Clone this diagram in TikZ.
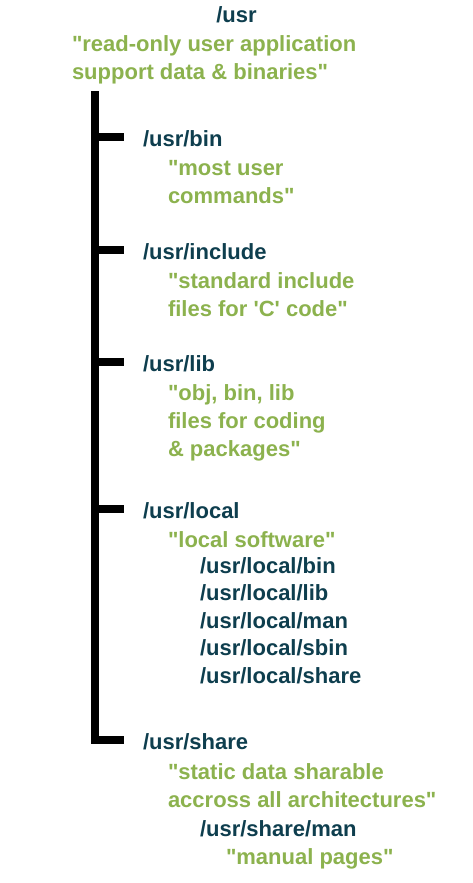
\documentclass[tikz,border=0pt]{standalone}
\usepackage{fontspec}
% straight quotes and apostrophes, no TeX ligature mapping
\setmainfont{Liberation Sans}[Ligatures=TeXOff]
\definecolor{dirteal}{HTML}{0E3E4E}
\definecolor{notegreen}{HTML}{8CB24E}
\begin{document}
\begin{tikzpicture}[x=1pt,y=-1pt,
  every node/.style={inner sep=0pt,outer sep=0pt,font=\fontsize{22}{28}\selectfont\bfseries},
  dir/.style={text=dirteal,anchor=base west},
  note/.style={text=notegreen,anchor=base west},
  trunk/.style={line width=8pt,black,line join=miter,line cap=butt},
  branch/.style={line width=8.5pt,black,line cap=butt}]
\useasboundingbox (0,0) rectangle (473,883);

% root
\node[dir,anchor=base] (usr) at (236.5,23) {/usr};
\node[note] (usrn1) at (72,52) {"read-only user application};
\node[note] (usrn2) at (72,80) {support data \& binaries"};

% /usr/bin
\node[dir] (bin) at (143,146) {/usr/bin};
\node[note] (binn1) at (168,175) {"most user};
\node[note] (binn2) at (168,203) {commands"};

% /usr/include
\node[dir] (inc) at (143,259) {/usr/include};
\node[note] (incn1) at (168,288) {"standard include};
\node[note] (incn2) at (168,316) {files for 'C' code"};

% /usr/lib
\node[dir] (lib) at (143,371) {/usr/lib};
\node[note] (libn1) at (168,400) {"obj, bin, lib};
\node[note] (libn2) at (168,428) {files for coding};
\node[note] (libn3) at (168,456) {\& packages"};

% /usr/local
\node[dir] (loc) at (143,518) {/usr/local};
\node[note] (locn1) at (168,547) {"local software"};
\node[dir] (locbin) at (200,573) {/usr/local/bin};
\node[dir] (loclib) at (200,600) {/usr/local/lib};
\node[dir] (locman) at (200,628) {/usr/local/man};
\node[dir] (locsbin) at (200,655) {/usr/local/sbin};
\node[dir] (locshare) at (200,683) {/usr/local/share};

% /usr/share
\node[dir] (share) at (143,749) {/usr/share};
\node[note] (sharen1) at (168,779) {"static data sharable};
\node[note] (sharen2) at (168,807) {accross all architectures"};
\node[dir] (shareman) at (200,836) {/usr/share/man};
\node[note] (sharemann) at (226,864) {"manual pages"};

% tree trunk and branch points
\coordinate (top) at (95,91);
\coordinate (jbin) at (91,137);
\coordinate (jinc) at (91,250);
\coordinate (jlib) at (91,362);
\coordinate (jloc) at (91,509);
\coordinate (jshare) at (95,740);
\coordinate (ebin) at (124,137);
\coordinate (einc) at (124,250);
\coordinate (elib) at (124,362);
\coordinate (eloc) at (124,509);
\coordinate (eshare) at (124,740);

\draw[trunk] (top) -- (jshare) -- (eshare);
\draw[branch] (jbin) -- (ebin);
\draw[branch] (jinc) -- (einc);
\draw[branch] (jlib) -- (elib);
\draw[branch] (jloc) -- (eloc);
\end{tikzpicture}
\end{document}
